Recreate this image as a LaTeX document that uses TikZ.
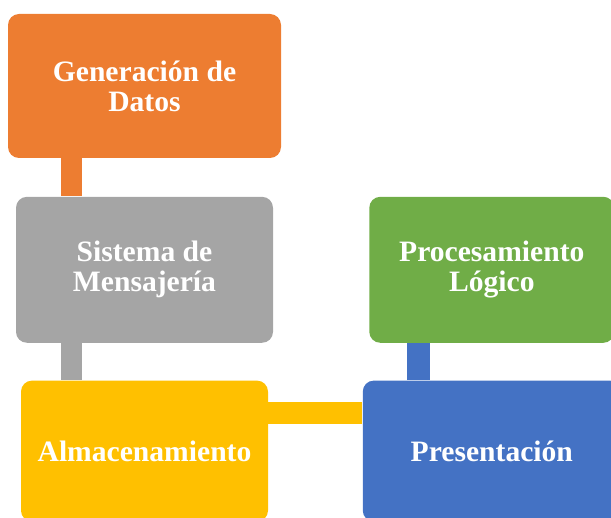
\documentclass[tikz,border=0pt]{standalone}
\usepackage{fontspec}
\setmainfont{Liberation Serif}
\usepackage{tikz}
\usetikzlibrary{positioning}
\definecolor{naranja}{HTML}{ED7D31}
\definecolor{gris}{HTML}{A5A5A5}
\definecolor{amarillo}{HTML}{FFC000}
\definecolor{verde}{HTML}{70AD47}
\definecolor{azul}{HTML}{4472C4}
\begin{document}
\begin{tikzpicture}[
  x=0.5pt, y=-0.5pt,
  node distance=18.5pt,
  caja/.style={rounded corners=5.5pt, fill=#1, text=white, align=center, inner sep=0pt,
               font=\fontsize{14.8pt}{15pt}\selectfont\bfseries},
  enlace/.style={draw=#1, line width=10.5pt}]
\useasboundingbox (0,0) rectangle (611,518);
\node[caja=naranja, minimum width=136.5pt, minimum height=72pt] (gen) at (144.5,86) {Generación de\\Datos};
\node[caja=gris, minimum width=128.5pt, minimum height=73pt, below=19pt of gen] (sis) {Sistema de\\Mensajería};
\node[caja=amarillo, minimum width=123.5pt, minimum height=70.5pt, below=of sis] (alm) {Almacenamiento};
\node[caja=azul, minimum width=129pt, minimum height=70.5pt, right=47pt of alm] (pres) {Presentación};
\node[caja=verde, minimum width=122.5pt, minimum height=73pt, above=of pres] (proc) {Procesamiento\\Lógico};
% barras de union
\coordinate (bx) at (71.5,0);
\coordinate[below=16.5pt of alm.north east] (ay);
\coordinate[right=28.25pt of pres.north west] (bz);
\draw[enlace=naranja] (gen.south -| bx) -- (sis.north -| bx);
\draw[enlace=gris] (sis.south -| bx) -- (alm.north -| bx);
\draw[enlace=amarillo, line width=11pt] (ay) -- (ay -| pres.west);
\draw[enlace=azul, line width=11.5pt] (bz) -- (bz |- proc.south);
\end{tikzpicture}
\end{document}
